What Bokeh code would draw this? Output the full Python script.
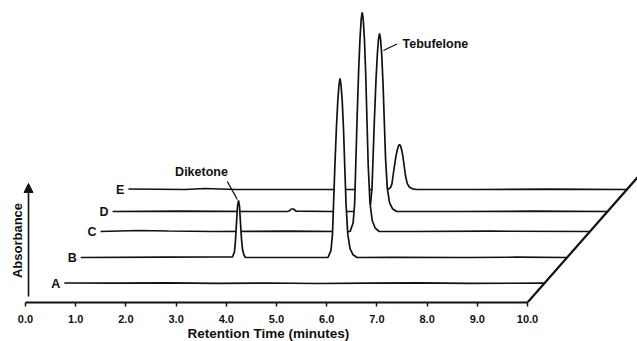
from bokeh.plotting import figure
from bokeh.models import Range1d, LinearAxis, FixedTicker, Arrow, NormalHead, Label, Title
from bokeh.core.properties import value
from bokeh.embed import file_html
from bokeh.resources import INLINE

# ---- data -----------------------------------------------------------------
TICKS = [0, 1, 2, 3, 4, 5, 6, 7, 8, 9, 10]
TICK_LABELS = ["0.0", "1.0", "2.0", "3.0", "4.0", "5.0", "6.0", "7.0", "8.0", "9.0", "10.0"]
SAMPLES = ["A", "B", "C", "D", "E"]

# retention time (min) / absorbance (arbitrary units) for each chromatogram
A_T = [0.44, 1.5, 2.5, 3.5, 4.5, 5.5, 6.5, 7.5, 8.5, 10.0]
A_Y = [0.5, 0.3, 0.6, 0.2, 0.5, 0.0, 0.4, 0.6, 0.2, 0.3]

B_T = [0.31, 2.0, 3.0, 3.334, 3.374, 3.394, 3.414, 3.434, 3.454, 3.474, 3.494, 3.514,
       3.534, 3.564, 3.594, 3.9, 4.5, 5.0, 5.236, 5.296, 5.326, 5.372, 5.406, 5.432,
       5.456, 5.476, 5.496, 5.52, 5.546, 5.572, 5.596, 5.631, 5.676, 5.736, 5.816,
       6.5, 8.0, 9.0, 10.0]
B_Y = [0.0, 0.3, 0.5, 0.5, 5.7, 17.1, 34.2, 51.3, 57.0, 51.3, 34.2, 18.2,
       8.0, 2.3, 0.0, 0.0, 0.0, 0.0, 0.0, 7.1, 23.1, 89.0, 131.7, 156.6,
       172.7, 179.0, 172.7, 156.6, 128.2, 89.0, 53.4, 23.1, 8.9, 2.7, 0.0,
       0.2, 0.0, 0.3, 0.0]

C_T = [0.25, 1.0, 1.6, 2.5, 4.0, 5.0, 5.222, 5.282, 5.312, 5.358, 5.392, 5.418, 5.442,
       5.462, 5.482, 5.506, 5.532, 5.558, 5.582, 5.617, 5.662, 5.722, 5.802,
       6.5, 8.0, 10.0]
C_Y = [0.0, 1.0, 0.5, 0.0, 0.3, 0.0, 0.0, 8.8, 28.5, 109.5, 162.1, 192.7, 212.4,
       219.0, 212.4, 192.7, 157.7, 109.5, 65.7, 28.5, 11.0, 3.3, 0.0,
       0.0, 0.3, 0.0]

D_T = [0.14, 1.5, 3.0, 3.62, 3.66, 3.70, 3.74, 3.80, 4.5, 5.218, 5.278, 5.308, 5.354,
       5.388, 5.414, 5.438, 5.458, 5.478, 5.502, 5.528, 5.554, 5.578, 5.613, 5.658,
       5.718, 5.798, 7.0, 8.5, 10.0]
D_Y = [0.0, 0.3, 0.0, 0.0, 0.5, 2.5, 2.5, 0.3, 0.0, 0.0, 7.1, 23.1, 89.0,
       131.7, 156.6, 172.7, 178.0, 172.7, 156.6, 128.2, 89.0, 53.4, 23.1, 8.9,
       2.7, 0.0, 0.0, 0.3, 0.0]

E_T = [0.07, 1.2, 1.6, 2.2, 3.5, 5.23, 5.29, 5.32, 5.366, 5.40, 5.426, 5.45, 5.47,
       5.49, 5.514, 5.54, 5.566, 5.59, 5.625, 5.67, 5.73, 5.81, 7.0, 8.5, 10.0]
E_Y = [0.5, 0.0, 1.0, 0.0, 0.0, 0.0, 1.8, 5.9, 22.5, 33.3, 39.6, 43.7, 45.0,
       43.7, 39.6, 32.4, 22.5, 13.5, 5.9, 2.3, 0.7, 0.0, 0.0, 0.3, 0.0]

# ---- layout (oblique "3-D" offsets of each trace) --------------------------
X_SHIFT = {"A": 0.333, "B": 0.789, "C": 1.245, "D": 1.594, "E": 1.98}
Y_SHIFT = {"A": 19, "B": 45, "C": 71, "D": 91, "E": 113}
TRACES = {"A": (A_T, A_Y), "B": (B_T, B_Y), "C": (C_T, C_Y), "D": (D_T, D_Y), "E": (E_T, E_Y)}

FONT = "Liberation Sans"
INK = "#111111"

p = figure(frame_width=637, frame_height=302,
           x_range=Range1d(-0.498, 12.191), y_range=Range1d(0, 302),
           x_axis_type=None, y_axis_type=None,
           output_backend="svg", toolbar_location=None,
           min_border=0, min_border_bottom=39, outline_line_color=None,
           background_fill_color="white", border_fill_color="white")

ax = LinearAxis(bounds=(0, 10), ticker=FixedTicker(ticks=TICKS, minor_ticks=[]),
                major_label_overrides={t: l for t, l in zip(TICKS, TICK_LABELS)},
                axis_line_width=2.2, axis_line_color=INK,
                major_tick_in=0, major_tick_out=4, major_tick_line_width=1.5,
                major_tick_line_color=INK, minor_tick_out=0, minor_tick_in=0,
                major_label_standoff=8,
                major_label_text_font=FONT, major_label_text_font_style="bold",
                major_label_text_font_size="11px", major_label_text_color=INK)
p.add_layout(ax, "below")

# axis title, placed where the original places it
p.add_layout(Title(text="Retention Time (minutes)", align="left", offset=187,
                   standoff=-4, text_font=FONT, text_font_style="bold",
                   text_font_size="13.5px", text_color=INK), "below")

# traces, back to front, with hidden-line removal
for s in reversed(SAMPLES):
    t, v = TRACES[s]
    xs = [ti + X_SHIFT[s] for ti in t]
    ys = [vi + Y_SHIFT[s] for vi in v]
    p.varea(x=xs, y1=[Y_SHIFT[s]] * len(xs), y2=ys, fill_color="white")
    p.line(xs, ys, line_color=INK, line_width=1.7)

# sample labels
p.text(x=[TRACES[s][0][0] + X_SHIFT[s] for s in SAMPLES],
       y=[Y_SHIFT[s] for s in SAMPLES], text=SAMPLES,
       text_align="right", text_baseline="middle", x_offset=-4,
       text_font=value(FONT), text_font_style="bold", text_font_size="12.5px",
       text_color=INK)

# oblique floor edge through the trace ends
k = X_SHIFT["E"] / Y_SHIFT["E"]
p.line([10, 10 + k * 140], [0, 140], line_color=INK, line_width=2.2)

# absorbance arrow
p.add_layout(Arrow(end=NormalHead(size=9, fill_color=INK, line_color=INK),
                   x_start=0.06, y_start=6, x_end=0.06, y_end=119,
                   line_width=1.6, line_color=INK))
p.add_layout(Label(x=-0.16, y=62, text="Absorbance", angle=1.5708,
                   text_align="center", text_baseline="middle",
                   text_font=FONT, text_font_style="bold", text_font_size="13px",
                   text_color=INK))

# peak annotations
p.segment(x0=[4.02, 7.13], y0=[121, 252], x1=[4.22, 7.40], y1=[103, 258.5],
          line_color=INK, line_width=1.3)
p.add_layout(Label(x=3.506, y=131, text="Diketone", text_align="center",
                   text_baseline="middle", text_font=FONT, text_font_style="bold",
                   text_font_size="12.5px", text_color=INK))
p.add_layout(Label(x=7.51, y=259, text="Tebufelone", text_align="left",
                   text_baseline="middle", text_font=FONT, text_font_style="bold",
                   text_font_size="12.5px", text_color=INK))

open("out.html", "w").write(file_html(p, INLINE))
